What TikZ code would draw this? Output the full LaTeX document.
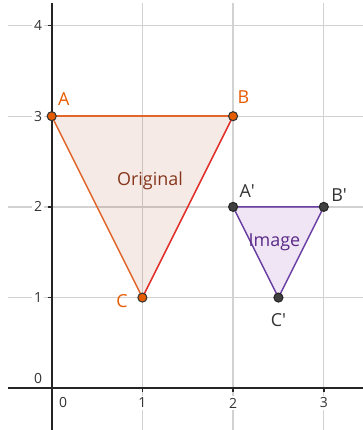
\documentclass[tikz,border=0pt]{standalone}
\usepackage{fontspec}
\setmainfont{Open Sans}
\usepackage{tikz}
\usetikzlibrary{positioning,backgrounds}
\definecolor{gridgray}{HTML}{D2D2D2}
\definecolor{axisdark}{HTML}{252525}
\definecolor{labelgray}{HTML}{333333}
\definecolor{origedge}{HTML}{E2652A}
\definecolor{origred}{HTML}{E0302C}
\definecolor{origshade}{HTML}{993300}
\definecolor{origtext}{HTML}{86361C}
\definecolor{origdot}{HTML}{E65C00}
\definecolor{imgedge}{HTML}{6B3FA3}
\definecolor{imgshade}{HTML}{660099}
\definecolor{imgtext}{HTML}{5A2A88}

\begin{document}
\begin{tikzpicture}[x=2.4cm, y=2.4cm,
  gridline/.style={gridgray, line width=1pt},
  axisline/.style={axisdark, line width=1.8pt},
  tickmark/.style={axisdark, line width=1.2pt},
  ticklbl/.style={fill=white, inner sep=1.5pt, font=\fontsize{10.5}{12}\selectfont, text=labelgray},
  origpt/.style={circle, draw=black!80, fill=origdot, line width=0.8pt, minimum size=6.8pt, inner sep=0pt},
  imgpt/.style={circle, draw=black!85, fill=black!75, line width=0.8pt, minimum size=6.8pt, inner sep=0pt},
  origlbl/.style={inner sep=0pt, font=\fontsize{13.5}{16}\selectfont, text=origdot},
  imglbl/.style={inner sep=0pt, font=\fontsize{13.5}{16}\selectfont, text=labelgray},
  side/.style={line width=1.1pt, line join=round},
  shade/.style={fill opacity=0.1}
]
  \useasboundingbox (-0.570,-0.460) rectangle (3.432,4.281);

  % vertices
  \node[origpt] (A) at (0,3) {};
  \node[origpt] (B) at (2,3) {};
  \node[origpt] (C) at (1,1) {};
  \node[imgpt] (A1) at (2,2) {};
  \node[imgpt] (B1) at (3,2) {};
  \node[imgpt] (C1) at (2.5,1) {};

  \node[origlbl, above right=5pt and 2pt of A] (labA) {A};
  \node[origlbl, above right=7pt and 0.5pt of B] (labB) {B};
  \node[origlbl, left=7pt of C, yshift=-3pt] (labC) {C};
  \node[imglbl, above right=4.3pt and 2pt of A1] (labA1) {A\textquotesingle};
  \node[imglbl, above right=1.3pt and 2.8pt of B1] (labB1) {B\textquotesingle};
  \node[imglbl, below=7.7pt of C1] (labC1) {C\textquotesingle};

  \node[anchor=base, font=\fontsize{13.5}{16}\selectfont, text=origtext] (origname) at (1.084,2.241) {Original};
  \node[anchor=base, font=\fontsize{13.5}{16}\selectfont, text=imgtext] (imgname) at (2.456,1.558) {Image};

  % tick labels
  \node[ticklbl] (y1) at (-0.151,1) {1};
  \node[ticklbl] (y2) at (-0.151,2) {2};
  \node[ticklbl] (y3) at (-0.151,3) {3};
  \node[ticklbl] (y4) at (-0.151,4) {4};
  \node[ticklbl] (y0) at (-0.151,0.103) {0};
  \node[ticklbl] (x0) at (0.125,-0.162) {0};
  \node[ticklbl] (x1) at (1,-0.162) {1};
  \node[ticklbl] (x2) at (2,-0.162) {2};
  \node[ticklbl] (x3) at (3,-0.162) {3};

  \begin{scope}[on background layer]
    % grid and axes
    \draw[gridline] (-0.482,1) -- (3.432,1) (-0.482,2) -- (3.432,2)
      (-0.482,3) -- (3.432,3) (-0.482,4) -- (3.432,4);
    \draw[gridline] (1,-0.460) -- (1,4.248) (2,-0.460) -- (2,4.248)
      (3,-0.460) -- (3,4.248);
    \draw[axisline] (-0.482,0) -- (3.432,0);
    \draw[axisline] (0,-0.460) -- (0,4.248);
    \draw[tickmark] (-0.045,1) -- (0,1) (-0.045,2) -- (0,2) (-0.045,3) -- (0,3)
      (-0.045,4) -- (0,4) (1,0) -- (1,-0.045) (2,0) -- (2,-0.045) (3,0) -- (3,-0.045);

    % triangles
    \fill[shade, origshade] (A.center) -- (B.center) -- (C.center) -- cycle;
    \fill[shade, imgshade] (A1.center) -- (B1.center) -- (C1.center) -- cycle;
    \draw[side, origedge] (A.center) -- (B.center);
    \draw[side, origred] (B.center) -- (C.center);
    \draw[side, origedge] (C.center) -- (A.center);
    \draw[side, imgedge] (A1.center) -- (B1.center) -- (C1.center) -- cycle;
  \end{scope}
\end{tikzpicture}
\end{document}
